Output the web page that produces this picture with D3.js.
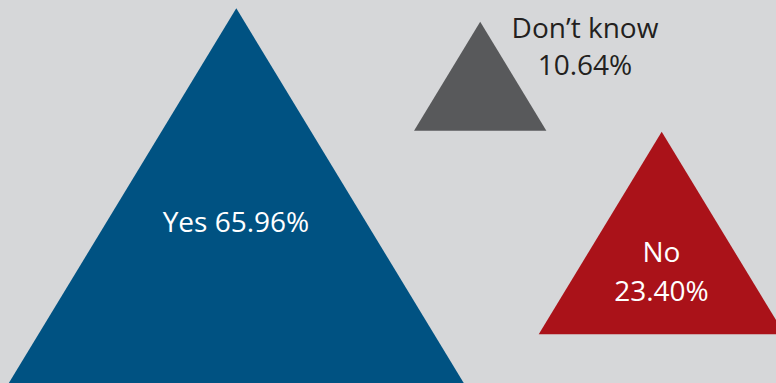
<!DOCTYPE html>
<html>
<head>
<meta charset="utf-8">
<script src="https://cdn.jsdelivr.net/npm/d3@7"></script>
<style>
  html, body { margin: 0; padding: 0; background: #d6d7d9; }
  svg { display: block; }
  text { font-family: "Open Sans", "Noto Sans", sans-serif; }
</style>
</head>
<body>
<svg id="chart" width="776" height="383"></svg>
<script>
// Survey answers and their shares (%)
const categories = ["Yes", "Don\u2019t know", "No"];
const shares = [65.96, 10.64, 23.40];
const shareLabels = ["65.96%", "10.64%", "23.40%"];

const W = 776, H = 383;
const svg = d3.select("#chart");

svg.append("rect").attr("width", W).attr("height", H).attr("fill", "#d6d7d9");

// Triangle height grows with the square root of the share
const heightScale = d3.scalePow().exponent(0.5)
  .domain([10.64, 23.40])
  .range([109, 202.6]);

// Half-base / height ratio shared by all triangles
const halfBaseRatio = 0.607;

// Placement of each triangle's apex and of its label lines
const layout = {
  "Yes":          { apexX: 236.3, apexY: 8.3,   fill: "#005282", text: "#ffffff",
                    lines: [{ t: d => "Yes " + d.label, x: 236, y: 232 }] },
  "Don\u2019t know": { apexX: 480.2, apexY: 21.7, fill: "#58595b", text: "#231f20",
                    lines: [{ t: d => d.name, x: 585, y: 38 },
                            { t: d => d.label, x: 585, y: 75 }] },
  "No":           { apexX: 661.7, apexY: 131.7, fill: "#aa1219", text: "#ffffff",
                    lines: [{ t: d => d.name, x: 661.5, y: 262 },
                            { t: d => d.label, x: 661.5, y: 301 }] }
};

const items = categories.map((name, i) => ({ name, value: shares[i], label: shareLabels[i] }));

const triPath = d => {
  const L = layout[d.name];
  const h = heightScale(d.value);
  const hb = h * halfBaseRatio;
  const p = d3.path();
  p.moveTo(L.apexX, L.apexY);
  p.lineTo(L.apexX + hb, L.apexY + h);
  p.lineTo(L.apexX - hb, L.apexY + h);
  p.closePath();
  return p.toString();
};

const g = svg.selectAll("g.item").data(items).join("g").attr("class", "item");

g.append("path")
  .attr("d", triPath)
  .attr("fill", d => layout[d.name].fill);

g.each(function (d) {
  const L = layout[d.name];
  d3.select(this).selectAll("text")
    .data(L.lines)
    .join("text")
    .attr("x", l => l.x)
    .attr("y", l => l.y)
    .attr("text-anchor", "middle")
    .attr("font-size", 28)
    .attr("fill", L.text)
    .text(l => l.t(d));
});
</script>
</body>
</html>
